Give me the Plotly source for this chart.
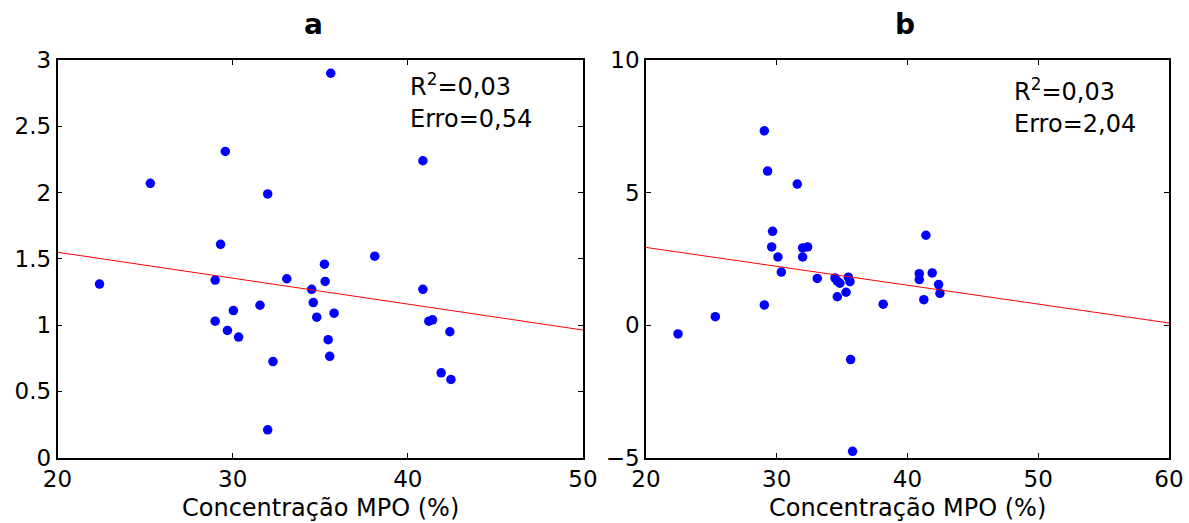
import plotly.graph_objects as go

# ---- data ----
mpo_a = [22.4, 25.3, 29.58, 32.0, 29.31, 29.0, 33.09, 34.51, 35.24, 35.28, 34.6, 34.8,
         31.56, 30.04, 29.0, 29.7, 30.34, 32.3, 32.0, 35.6, 35.79, 35.45, 35.54, 38.11,
         40.86, 40.86, 41.2, 41.41, 42.4, 41.9, 42.46]
val_a = [1.31, 2.07, 2.31, 1.99, 1.61, 1.34, 1.35, 1.27, 1.46, 1.33, 1.17, 1.06,
         1.15, 1.11, 1.03, 0.96, 0.91, 0.725, 0.21, 2.90, 1.09, 0.89, 0.765, 1.52,
         2.24, 1.27, 1.03, 1.04, 0.95, 0.64, 0.59]
fit_a_x = [20, 50]
fit_a_y = [1.55, 0.963]

mpo_b = [29.05, 29.30, 31.57, 29.68, 29.61, 30.09, 30.35, 31.98, 32.36, 31.98, 33.1,
         34.45, 34.63, 34.83, 35.47, 35.6, 35.3, 34.63, 29.05, 25.3, 35.65, 35.8,
         38.14, 40.9, 40.9, 41.41, 41.89, 42.38, 42.48, 41.25, 22.45]
val_b = [7.33, 5.81, 5.32, 3.54, 2.95, 2.57, 2.00, 2.91, 2.95, 2.57, 1.76,
         1.78, 1.66, 1.58, 1.81, 1.64, 1.24, 1.07, 0.76, 0.32, -1.30, -4.76,
         0.79, 1.94, 1.72, 3.39, 1.97, 1.53, 1.20, 0.96, -0.33]
fit_b_x = [20, 60]
fit_b_y = [2.93, 0.08]

xticks_a = [20, 30, 40, 50]
yticks_a = [0, 0.5, 1, 1.5, 2, 2.5, 3]
xticks_b = [20, 30, 40, 50, 60]
yticks_b = [-5, 0, 5, 10]

panel_titles = ["a", "b"]
x_title = "Concentração MPO (%)"
stats_a = ["R<sup>2</sup>=0,03", "Erro=0,54"]
stats_b = ["R<sup>2</sup>=0,03", "Erro=2,04"]

W, H = 1189, 523
FONT = "DejaVu Sans"

def px(x):
    return x / W

def py(y):
    return 1 - y / H

fig = go.Figure()
fig.add_trace(go.Scatter(x=mpo_a, y=val_a, mode="markers", xaxis="x", yaxis="y",
                         marker=dict(color="#0000FF", size=9.5, line=dict(width=0))))
fig.add_trace(go.Scatter(x=fit_a_x, y=fit_a_y, mode="lines", xaxis="x", yaxis="y",
                         line=dict(color="#FF0000", width=1)))
fig.add_trace(go.Scatter(x=mpo_b, y=val_b, mode="markers", xaxis="x2", yaxis="y2",
                         marker=dict(color="#0000FF", size=9.5, line=dict(width=0))))
fig.add_trace(go.Scatter(x=fit_b_x, y=fit_b_y, mode="lines", xaxis="x2", yaxis="y2",
                         line=dict(color="#FF0000", width=1)))

axis_common = dict(showline=True, linecolor="black", linewidth=1.5, mirror="allticks",
                   ticks="inside", ticklen=5, tickwidth=1, tickcolor="black",
                   showgrid=False, zeroline=False, automargin=False,
                   tickfont=dict(family=FONT, size=23, color="black"))

yb0, yb1 = py(457.7), py(60)
fig.update_layout(
    width=W, height=H, margin=dict(l=0, r=0, t=0, b=0, autoexpand=False),
    paper_bgcolor="white", plot_bgcolor="white", showlegend=False,
    xaxis=dict(domain=[px(57.5), px(583)], range=[20, 50], tickvals=xticks_a,
               anchor="y", **axis_common),
    yaxis=dict(domain=[yb0, yb1], range=[0, 3], tickvals=yticks_a,
               ticktext=[f"{v:g}" for v in yticks_a], anchor="x", **axis_common),
    xaxis2=dict(domain=[px(646), px(1169)], range=[20, 60], tickvals=xticks_b,
                anchor="y2", **axis_common),
    yaxis2=dict(domain=[yb0, yb1], range=[-5, 10], tickvals=yticks_b,
                anchor="x2", **axis_common),
)

ann = []
# panel titles
for t, cx in zip(panel_titles, [313, 905]):
    ann.append(dict(text=f"<b>{t}</b>", x=px(cx), y=py(24), xref="paper", yref="paper",
                    xanchor="center", yanchor="middle", showarrow=False,
                    font=dict(family=FONT, size=28, color="black")))
# x-axis titles
for cx in [320, 907.5]:
    ann.append(dict(text=x_title, x=px(cx), y=py(508), xref="paper", yref="paper",
                    xanchor="center", yanchor="middle", showarrow=False,
                    font=dict(family=FONT, size=24, color="black")))
# stats text
for (l1, l2), xr, yr, xv, y1, y2 in [(stats_a, "x", "y", 40.0, 2.81, 2.555),
                                     (stats_b, "x2", "y2", 48.0, 8.87, 7.60)]:
    for txt, yv in [(l1, y1), (l2, y2)]:
        ann.append(dict(text=txt, x=xv, y=yv, xref=xr, yref=yr, xanchor="left",
                        yanchor="middle", showarrow=False,
                        font=dict(family=FONT, size=24, color="black")))
fig.update_layout(annotations=ann)

fig.write_html("out.html")
